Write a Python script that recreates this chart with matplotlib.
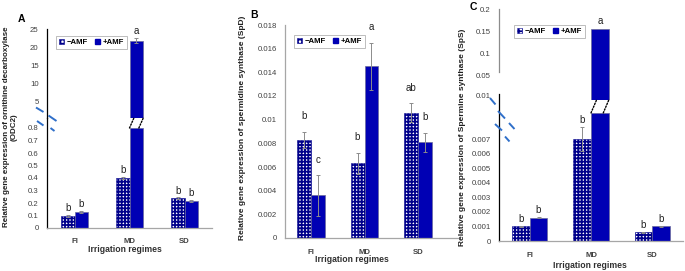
import numpy as np
import matplotlib
matplotlib.use("Agg")
import matplotlib.pyplot as plt
from matplotlib.patches import Patch, ConnectionPatch
from matplotlib.lines import Line2D

# ---------------- data ----------------
categories = ["FI", "MD", "SD"]
legend_labels = ["\u2212AMF", "+AMF"]

odc_minus = [0.10, 0.40, 0.24]
odc_minus_err = [0.008, 0.010, 0.008]
odc_plus = [0.13, 21.8, 0.22]
odc_plus_err = [0.008, 0.8, 0.008]
odc_letters_minus = ["b", "b", "b"]
odc_letters_plus = ["b", "a", "b"]

spd_minus = [0.0083, 0.0063, 0.0106]
spd_minus_err = [0.0007, 0.0009, 0.0008]
spd_plus = [0.0036, 0.0145, 0.0081]
spd_plus_err = [0.0017, 0.0020, 0.0008]
spd_letters_minus = ["b", "b", "ab"]
spd_letters_plus = ["c", "a", "b"]

sps_minus = [0.0010, 0.0070, 0.0006]
sps_minus_err = [0.00003, 0.0008, 0.00003]
sps_plus = [0.0016, 0.155, 0.0010]
sps_plus_err = [0.00003, 0.0, 0.00003]
sps_letters_minus = ["b", "b", "b"]
sps_letters_plus = ["b", "a", "b"]

odc_ticks_low = [0, 0.1, 0.2, 0.3, 0.4, 0.5, 0.6, 0.7, 0.8]
odc_ticks_high = [5, 10, 15, 20, 25]
spd_ticks = [0, 0.002, 0.004, 0.006, 0.008, 0.01, 0.012, 0.014, 0.016, 0.018]
sps_ticks_low = [0, 0.001, 0.002, 0.003, 0.004, 0.005, 0.006, 0.007, 0.01]
sps_ticks_high = [0.05, 0.1, 0.15, 0.2]

# ---------------- style ----------------
FONT = ["Liberation Sans Narrow", "Liberation Sans", "DejaVu Sans"]
plt.rcParams["font.family"] = FONT
plt.rcParams["hatch.linewidth"] = 1.3
SOLID = "#0000B4"
HATCH_C = "#00008B"
ERR_C = "#8C8C8C"
BREAK_C = "#2F6FC9"
W, H = 685, 271

fig = plt.figure(figsize=(W / 100, H / 100), dpi=100)


def rect(x0, y0, x1, y1):
    return [x0 / W, 1 - y1 / H, (x1 - x0) / W, (y1 - y0) / H]


def fx(x):
    return x / W


def fy(y):
    return 1 - y / H


def style_axis(ax, left_color="black", bottom=True):
    for s in ["top", "right"]:
        ax.spines[s].set_visible(False)
    ax.spines["left"].set_color(left_color)
    ax.spines["left"].set_linewidth(0.9)
    if bottom:
        ax.spines["bottom"].set_color("#A6A6A6")
        ax.spines["bottom"].set_linewidth(0.9)
    else:
        ax.spines["bottom"].set_visible(False)
    ax.patch.set_alpha(0)
    ax.tick_params(axis="both", length=0, labelsize=5.6, colors="#404040")
    ax.tick_params(axis="y", pad=6)
    ax.tick_params(axis="x", pad=7)


def fmt(v):
    return f"{v:g}"


def errbar(ax, x, v, e):
    ax.errorbar(x, v, yerr=e, fmt="none", ecolor=ERR_C, elinewidth=0.7,
                capsize=1.5, capthick=0.7, zorder=3)


def bars_pair(ax, minus, minus_err, plus, plus_err, w, cut=None):
    x = np.arange(len(categories))
    mv = np.asarray(minus, float)
    pv = np.asarray(plus, float)
    if cut is not None:
        mv_d = np.minimum(mv, cut)
        pv_d = np.minimum(pv, cut)
    else:
        mv_d, pv_d = mv, pv
    ax.bar(x - w / 2, mv_d, w, color="white", edgecolor=HATCH_C, hatch="+++++",
           linewidth=0.4, zorder=2)
    ax.bar(x + w / 2, pv_d, w, color=SOLID, edgecolor="#6A6A9A", linewidth=0.5,
           zorder=2)
    for xi, v, e in zip(x - w / 2, mv, minus_err):
        if cut is None or v <= cut:
            errbar(ax, xi, v, e)
    for xi, v, e in zip(x + w / 2, pv, plus_err):
        if cut is None or v <= cut:
            errbar(ax, xi, v, e)
    return x


def letters(ax, xs, vals, errs, labs, off, cut=None):
    for xi, v, e, lab in zip(xs, vals, errs, labs):
        if cut is not None and v > cut:
            continue
        ax.annotate(lab, (xi, v + e), xytext=(0, off), textcoords="offset points",
                    ha="center", va="bottom", fontsize=7, color="#202020",
                    annotation_clip=False)


def legend(ax, x, y):
    handles = [Patch(facecolor="white", edgecolor=HATCH_C, hatch="++++", linewidth=0.4),
               Patch(facecolor=SOLID, edgecolor=SOLID)]
    lg = ax.legend(handles, legend_labels, loc="upper left",
                   bbox_to_anchor=(fx(x), fy(y)), bbox_transform=fig.transFigure,
                   ncol=2, handlelength=0.7, handleheight=0.7,
                   handletextpad=0.3, columnspacing=0.9, borderpad=0.35,
                   frameon=True, fancybox=False, prop={"weight": "bold", "size": 5.6})
    lg.get_frame().set_edgecolor("#A0A0A0")
    lg.get_frame().set_linewidth(0.6)
    lg.set_zorder(10)


def upper_bars(ax, xs, vals, errs, w, lo, cut, letter_labs, off):
    for xi, v, e, lab in zip(xs, vals, errs, letter_labs):
        if v > cut:
            ax.bar(xi, v - lo, w, bottom=lo, color=SOLID, edgecolor="#6A6A9A",
                   linewidth=0.5, zorder=2)
            if e > 0:
                errbar(ax, xi, v, e)
            ax.annotate(lab, (xi, v + e), xytext=(0, off), textcoords="offset points",
                        ha="center", va="bottom", fontsize=7, color="#202020",
                        annotation_clip=False)


def connectors(ax_lo, ax_hi, xs, vals, w, cut, lo_hi, dx):
    for xc, v in zip(xs, vals):
        if v <= cut:
            continue
        for xe in (xc - w / 2, xc + w / 2 - dx):
            con = ConnectionPatch(xyA=(xe, cut), coordsA=ax_lo.transData,
                                  xyB=(xe + dx, lo_hi), coordsB=ax_hi.transData,
                                  linestyle=(0, (1, 1.2)), color="black", linewidth=1.0)
            fig.add_artist(con)


def break_marks(segs):
    for (x0, y0), (x1, y1) in segs:
        fig.add_artist(Line2D([fx(x0), fx(x1)], [fy(y0), fy(y1)],
                              transform=fig.transFigure, color=BREAK_C,
                              linewidth=1.4, solid_capstyle="butt"))


# ================= Panel A =================
wA = 0.25
cutA = 0.8
loA = 0.28
axA_lo = fig.add_axes(rect(47, 118, 212, 228))
axA_hi = fig.add_axes(rect(47, 29, 212, 118))
xs = bars_pair(axA_lo, odc_minus, odc_minus_err, odc_plus, odc_plus_err, wA, cut=cutA)
axA_lo.set_xlim(-0.5, 2.5)
axA_lo.set_ylim(0, 0.88)
axA_lo.set_yticks(odc_ticks_low)
axA_lo.set_yticklabels([fmt(t) for t in odc_ticks_low])
axA_lo.set_xticks(xs)
axA_lo.set_xticklabels(categories, fontweight="bold")
style_axis(axA_lo)
axA_hi.set_xlim(-0.5, 2.5)
axA_hi.set_ylim(loA, 25)
upper_bars(axA_hi, xs + wA / 2, odc_plus, odc_plus_err, wA, loA, cutA,
           odc_letters_plus, 1.5)
axA_hi.set_yticks(odc_ticks_high)
axA_hi.set_yticklabels([fmt(t) for t in odc_ticks_high])
axA_hi.set_xticks([])
style_axis(axA_hi, bottom=False)
letters(axA_lo, xs - wA / 2, odc_minus, odc_minus_err, odc_letters_minus, 1.0)
letters(axA_lo, xs + wA / 2, odc_plus, odc_plus_err, odc_letters_plus, 1.0, cut=cutA)
connectors(axA_lo, axA_hi, xs + wA / 2, odc_plus, wA, cutA, loA, 0.08)
legend(axA_hi, 52, 32)
break_marks([((36, 107.5), (43.5, 112)), ((48.5, 115.5), (56.5, 121)),
             ((37, 121), (43.5, 125.5)), ((50.5, 128), (54.5, 131))])
fig.text(fx(10), fy(127), "Relative gene expression of ornithine decarboxylase\n(ODC2)",
         rotation=90, ha="center", va="center", fontsize=5.8, fontweight="bold",
         linespacing=1.15, color="#202020")
fig.text(fx(125), fy(249), "Irrigation regimes", ha="center", va="center",
         fontsize=6.2, fontweight="bold", color="#303030")
fig.text(fx(21), fy(19), "A", ha="center", va="center", fontsize=7.5,
         fontweight="bold")

# ================= Panel B =================
wB = 0.26
axB = fig.add_axes(rect(285, 25, 458, 238))
xs = bars_pair(axB, spd_minus, spd_minus_err, spd_plus, spd_plus_err, wB)
axB.set_xlim(-0.48, 2.74)
axB.set_ylim(0, 0.018)
axB.set_yticks(spd_ticks)
axB.set_yticklabels([fmt(t) for t in spd_ticks])
axB.set_xticks(xs)
axB.set_xticklabels(categories, fontweight="bold")
style_axis(axB, left_color="#A6A6A6")
axB.tick_params(axis="x", pad=8)
letters(axB, xs - wB / 2, spd_minus, spd_minus_err, spd_letters_minus, 7.5)
letters(axB, xs + wB / 2, spd_plus, spd_plus_err, spd_letters_plus, 7.5)
legend(axB, 290, 31)
fig.text(fx(243), fy(128), "Relative gene expression of spermidine synthase (SpD)",
         rotation=90, ha="center", va="center", fontsize=6.0, fontweight="bold",
         color="#202020")
fig.text(fx(352), fy(260), "Irrigation regimes", ha="center", va="center",
         fontsize=6.2, fontweight="bold", color="#303030")
fig.text(fx(254), fy(15), "B", ha="center", va="center", fontsize=7.5,
         fontweight="bold")

# ================= Panel C =================
wC = 0.29
cutC = 0.0088
loC = -0.005
axC_lo = fig.add_axes(rect(499, 94, 683, 241))
axC_hi = fig.add_axes(rect(499, 9, 683, 100))
xs = bars_pair(axC_lo, sps_minus, sps_minus_err, sps_plus, sps_plus_err, wC, cut=cutC)
axC_lo.set_xlim(-0.5, 2.5)
axC_lo.set_ylim(0, 0.0101)
axC_lo.set_yticks(sps_ticks_low)
axC_lo.set_yticklabels([fmt(t) for t in sps_ticks_low])
axC_lo.set_xticks(xs)
axC_lo.set_xticklabels(categories, fontweight="bold")
style_axis(axC_lo)
axC_lo.tick_params(axis="x", pad=8)
axC_hi.set_xlim(-0.5, 2.5)
axC_hi.set_ylim(loC, 0.2)
upper_bars(axC_hi, xs + wC / 2, sps_plus, sps_plus_err, wC, loC, cutC,
           sps_letters_plus, 2)
axC_hi.set_yticks(sps_ticks_high)
axC_hi.set_yticklabels([fmt(t) for t in sps_ticks_high])
axC_hi.set_xticks([])
style_axis(axC_hi, left_color="#8C8C8C", bottom=False)
axC_hi.spines["left"].set_bounds(0.058, 0.2)
letters(axC_lo, xs - wC / 2, sps_minus, sps_minus_err, sps_letters_minus, 1.5)
letters(axC_lo, xs + wC / 2, sps_plus, sps_plus_err, sps_letters_plus, 1.5, cut=cutC)
connectors(axC_lo, axC_hi, xs + wC / 2, sps_plus, wC, cutC, loC, 0.09)
legend(axC_hi, 510, 21)
break_marks([((490, 98), (495.5, 104.5)), ((498, 111), (505, 118.5)),
             ((495, 124), (502, 130.5)), ((509, 123), (514.5, 129)),
             ((505, 136.5), (509.5, 141.5))])
fig.text(fx(462), fy(137), "Relative gene expression of Spermine synthase (SpS)",
         rotation=90, ha="center", va="center", fontsize=6.0, fontweight="bold",
         color="#202020")
fig.text(fx(590), fy(265), "Irrigation regimes", ha="center", va="center",
         fontsize=6.2, fontweight="bold", color="#303030")
fig.text(fx(473), fy(7), "C", ha="center", va="center", fontsize=7.5,
         fontweight="bold")

fig.savefig("out.png", dpi=100)
